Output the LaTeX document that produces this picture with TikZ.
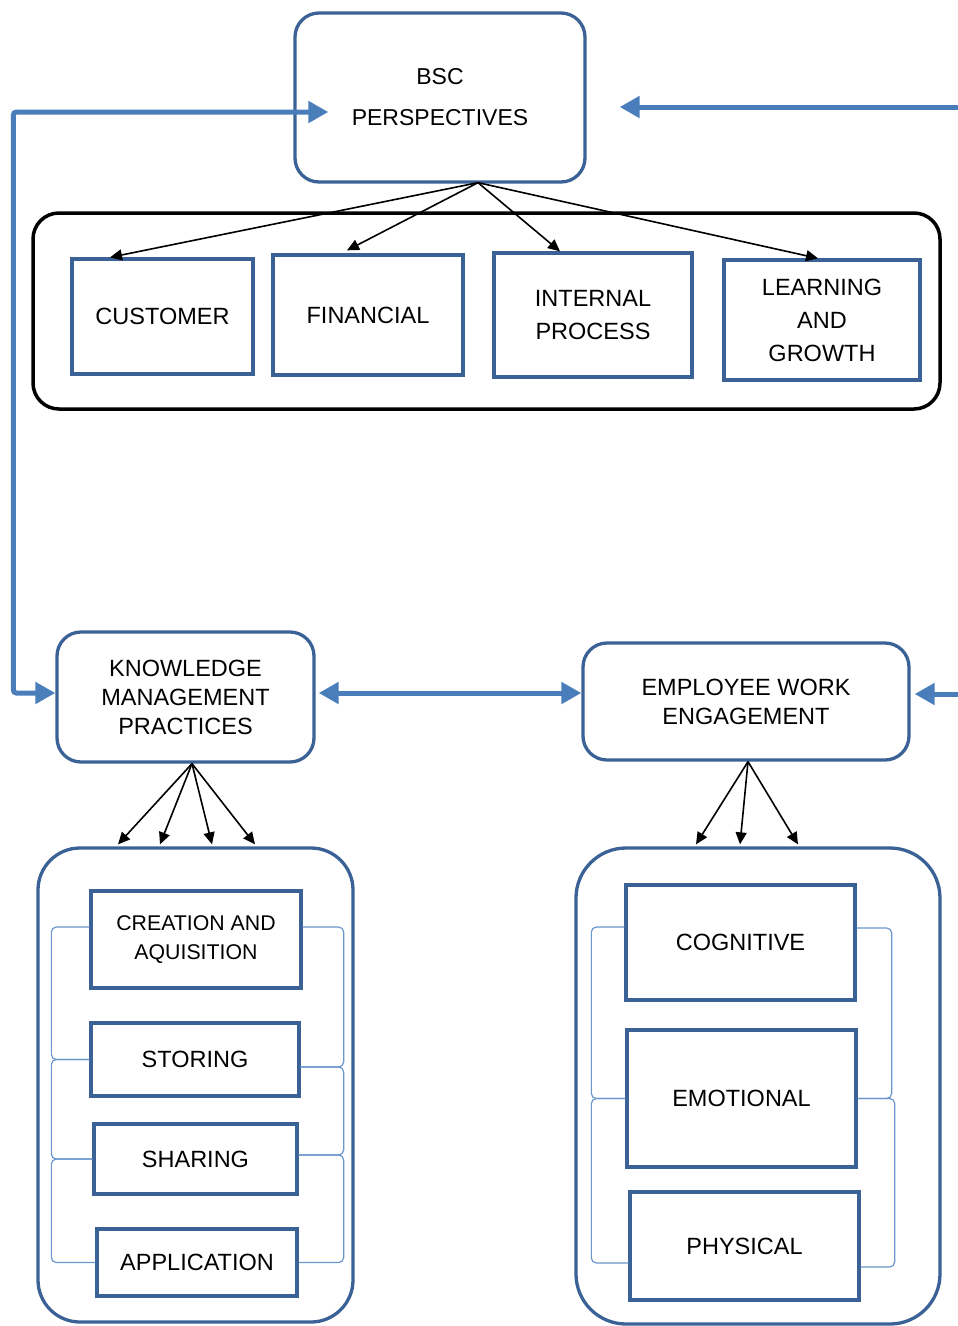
\documentclass[tikz,border=0pt]{standalone}
\usepackage{fontspec}
\setmainfont{Liberation Sans}
\usetikzlibrary{arrows.meta,calc}
\definecolor{boxblue}{HTML}{3B6296}
\definecolor{arrblue}{HTML}{4A7EBB}
\definecolor{brblue}{HTML}{6A96CC}
\begin{document}
\begin{tikzpicture}[x=1pt,y=-1pt,
  sqbox/.style={draw=boxblue,line width=3.3pt,fill=white,inner sep=0pt,align=center,
    font=\fontsize{23.5}{33}\selectfont},
  rbox/.style={draw=boxblue,line width=3.3pt,fill=white,inner sep=0pt,align=center,
    rounded corners=24pt,font=\fontsize{23.5}{29}\selectfont},
  cont/.style={draw=boxblue,line width=3.3pt,inner sep=0pt},
  blk/.style={draw=black,line width=1.6pt,-{Triangle[length=12pt,width=11pt]}},
  barrow/.style={draw=arrblue,line width=5pt,arrows={-Triangle[length=20pt,width=21pt]}},
  brk/.style={draw=brblue,line width=1.2pt,rounded corners=5pt}]
\useasboundingbox (0,0) rectangle (958,1326);

% containers
\node[draw=black,line width=3.5pt,rounded corners=26pt,minimum width=907pt,minimum height=196pt,inner sep=0pt] (top) at (486.5,311) {};
\node[cont,rounded corners=42pt,minimum width=315pt,minimum height=474pt] (lc) at (195.5,1085) {};
\node[cont,rounded corners=50pt,minimum width=364pt,minimum height=476pt] (rc) at (758,1086) {};

% main boxes
\node[rbox,minimum width=290pt,minimum height=169pt,font=\fontsize{23}{41}\selectfont] (bsc) at (440,97.5) {BSC\\PERSPECTIVES};
\node[rbox,minimum width=257pt,minimum height=130pt] (km) at (185.5,697) {KNOWLEDGE\\MANAGEMENT\\PRACTICES};
\node[rbox,minimum width=326pt,minimum height=117pt] (ewe) at (746,701.5) {EMPLOYEE WORK\\ENGAGEMENT};

% BSC perspectives
\node[sqbox,minimum width=181pt,minimum height=115pt] (cus) at (162.5,316.5) {CUSTOMER};
\node[sqbox,minimum width=190pt,minimum height=120pt] (fin) at (368,315) {FINANCIAL};
\node[sqbox,minimum width=198pt,minimum height=124pt] (int) at (593,315) {INTERNAL\\PROCESS};
\node[sqbox,minimum width=196pt,minimum height=120pt] (lea) at (822,320) {LEARNING\\AND\\GROWTH};

% KM practices
\node[sqbox,minimum width=210pt,minimum height=97pt,font=\fontsize{21.3}{29}\selectfont] (cre) at (196,939.5) {CREATION AND\\AQUISITION};
\node[sqbox,minimum width=208pt,minimum height=73pt] (sto) at (195,1059.5) {STORING};
\node[sqbox,minimum width=203pt,minimum height=70pt] (sha) at (195.5,1159) {SHARING};
\node[sqbox,minimum width=200pt,minimum height=67pt] (app) at (197,1262.5) {APPLICATION};

% engagement
\node[sqbox,minimum width=229pt,minimum height=115pt] (cog) at (740.5,942.5) {COGNITIVE};
\node[sqbox,minimum width=229pt,minimum height=137pt] (emo) at (741.5,1098.5) {EMOTIONAL};
\node[sqbox,minimum width=229pt,minimum height=108pt] (phy) at (744.5,1246) {PHYSICAL};

% brackets left container
\draw[brk] ([yshift=12.5pt]cre.west) -- ++(-38,0) |- (sto.west);
\draw[brk] (sto.west) -- ++(-38,0) |- (sha.west);
\draw[brk] (sha.west) -- ++(-41,0) |- (app.west);
\draw[brk] ([yshift=12.5pt]cre.east) -- ++(41,0) |- ([yshift=-7.5pt]sto.east);
\draw[brk] ([yshift=-7.5pt]sto.east) -- ++(43,0) |- ([yshift=4pt]sha.east);
\draw[brk] ([yshift=4pt]sha.east) -- ++(45,0) |- (app.east);

% brackets right container
\draw[brk] ([yshift=15.5pt]cog.west) -- ++(-33,0) |- (emo.west);
\draw[brk] (emo.west) -- ++(-34,0) |- ([yshift=-17pt]phy.west);
\draw[brk] ([yshift=14.5pt]cog.east) -- ++(35,0) |- (emo.east);
\draw[brk] (emo.east) -- ++(37,0) |- ([yshift=-21pt]phy.east);

% black arrows from BSC
\coordinate (bscs) at ([xshift=38pt,yshift=1pt]bsc.south);
\draw[blk] (bscs) -- ([xshift=-52.5pt]cus.north);
\draw[blk] (bscs) -- ([xshift=-21pt,yshift=3pt]fin.north);
\draw[blk] (bscs) -- ([xshift=-33pt]int.north);
\draw[blk] (bscs) -- ([xshift=-4pt]lea.north);

% black arrows from KM
\coordinate (kms) at ([xshift=6.5pt]km.south);
\draw[blk] (kms) -- ([xshift=-77.5pt,yshift=2pt]lc.north);
\draw[blk] (kms) -- ([xshift=-35.5pt,yshift=2pt]lc.north);
\draw[blk] (kms) -- ([xshift=16.5pt,yshift=2pt]lc.north);
\draw[blk] (kms) -- ([xshift=59.5pt,yshift=2pt]lc.north);

% black arrows from EWE
\coordinate (ewes) at ([xshift=2pt]ewe.south);
\draw[blk] (ewes) -- ([xshift=-62pt,yshift=2pt]rc.north);
\draw[blk] (ewes) -- ([xshift=-18pt,yshift=2pt]rc.north);
\draw[blk] (ewes) -- ([xshift=40pt,yshift=2pt]rc.north);

% blue feedback arrows
\coordinate (rin1) at (958,107);
\coordinate (rin2) at (958,694);
\draw[barrow] (rin1) -- ([xshift=33pt,yshift=-9.5pt]bsc.east);
\draw[barrow] (rin2) -- ([xshift=4pt,yshift=7.5pt]ewe.east);
\draw[barrow,arrows={Triangle[length=20pt,width=21pt]-Triangle[length=20pt,width=21pt]},rounded corners=3pt]
  ([xshift=35pt,yshift=-14.5pt]bsc.west) -- ++(-315,0) |- ([yshift=4pt]km.west);
\draw[barrow,arrows={Triangle[length=20pt,width=21pt]-Triangle[length=20pt,width=21pt]}]
  ([xshift=3pt,yshift=4pt]km.east) -- ([yshift=4pt]km.east -| ewe.west);
\end{tikzpicture}
\end{document}
